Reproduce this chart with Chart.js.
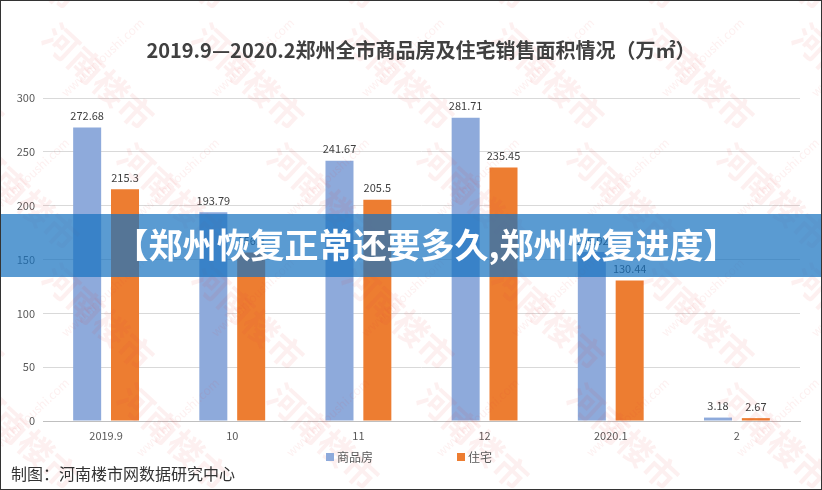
<!DOCTYPE html>
<html>
<head>
<meta charset="utf-8">
<script src="https://cdn.jsdelivr.net/npm/chart.js@4/dist/chart.umd.min.js"></script>
<style>
  html, body { margin: 0; padding: 0; background: #fff; }
  #wrap { width: 822px; height: 490px; position: relative; }
</style>
</head>
<body>
<div id="wrap"><canvas id="areaChart" width="822" height="490"></canvas></div>
<script>
// data
const months = ['2019.9', '10', '11', '12', '2020.1', '2'];
const commercialArea = [272.68, 193.79, 241.67, 281.71, 156.92, 3.18];   // 商品房
const residentialArea = [215.3, 156.4, 205.5, 235.45, 130.44, 2.67];     // 住宅
const yTicks = [0, 50, 100, 150, 200, 250, 300];

const titleText = '2019.9—2020.2郑州全市商品房及住宅销售面积情况（万㎡）';
const bannerText = '【郑州恢复正常还要多久,郑州恢复进度】';
const footerText = '制图：河南楼市网数据研究中心';
const FONT = '"Noto Sans CJK SC", "Noto Sans", sans-serif';

// watermark, labels, legend, banner
const decorPlugin = {
    id: 'decor',
    beforeDraw(chart) {
        const ctx = chart.ctx;
        ctx.save();
        ctx.fillStyle = '#fff';
        ctx.fillRect(0, 0, chart.width, chart.height);
        ctx.restore();
    },
    afterDatasetsDraw(chart) {
        const ctx = chart.ctx;
        // value labels above bars
        ctx.save();
        ctx.font = '11px ' + FONT;
        ctx.fillStyle = '#404040';
        ctx.textAlign = 'center';
        ctx.textBaseline = 'bottom';
        chart.data.datasets.forEach((ds, i) => {
            chart.getDatasetMeta(i).data.forEach((bar, j) => {
                ctx.fillText(String(ds.data[j]), bar.x, bar.y - 6);
            });
        });
        ctx.restore();

        // faint watermark
        ctx.save();
        ctx.globalAlpha = 0.08;
        ctx.fillStyle = '#e04040';
        for (let row = -1; row < 5; row++) {
            for (let col = -1; col < 7; col++) {
                const x = col * 150 + (row % 2) * 75 + 40;
                const y = row * 120 + 40;
                ctx.save();
                ctx.translate(x, y);
                ctx.rotate(0.75);
                ctx.font = 'bold 34px ' + FONT;
                ctx.fillText('河南楼市', 0, 0);
                ctx.font = '12px ' + FONT;
                ctx.rotate(-1.5);
                ctx.fillText('www.hnloushi.com', -20, 60);
                ctx.restore();
            }
        }
        ctx.restore();
    },
    afterDraw(chart) {
        const ctx = chart.ctx;
        ctx.save();

        // title
        ctx.font = 'bold 20px ' + FONT;
        ctx.fillStyle = '#404040';
        ctx.textAlign = 'center';
        ctx.textBaseline = 'middle';
        ctx.fillText(titleText, 421, 50);

        // legend
        ctx.font = '12px ' + FONT;
        ctx.textAlign = 'left';
        const legendX = [326, 457];
        chart.data.datasets.forEach((ds, i) => {
            ctx.fillStyle = ds.backgroundColor;
            ctx.fillRect(legendX[i], 453, 8, 8);
            ctx.fillStyle = '#595959';
            ctx.fillText(ds.label, legendX[i] + 11, 457);
        });

        // footer
        ctx.font = '16px ' + FONT;
        ctx.fillStyle = '#333333';
        ctx.fillText(footerText, 11, 474);

        // banner overlay
        ctx.fillStyle = 'rgba(22, 114, 191, 0.71)';
        ctx.fillRect(0, 214, chart.width, 63);
        ctx.font = 'bold 34px ' + FONT;
        ctx.fillStyle = '#ffffff';
        ctx.textAlign = 'center';
        ctx.fillText(bannerText, 426, 245);

        // frame
        ctx.strokeStyle = '#333333';
        ctx.lineWidth = 1;
        ctx.strokeRect(0.5, 0.5, chart.width - 1, chart.height - 1);
        ctx.restore();
    }
};

const chartCtx = document.getElementById('areaChart').getContext('2d');
const areaChart = new Chart(chartCtx, {
    type: 'bar',
    data: {
        labels: months,
        datasets: [{
            label: '商品房',
            data: commercialArea,
            backgroundColor: '#8eaadb',
            categoryPercentage: 0.6,
            barPercentage: 0.74
        }, {
            label: '住宅',
            data: residentialArea,
            backgroundColor: '#ed7d31',
            categoryPercentage: 0.6,
            barPercentage: 0.74
        }]
    },
    options: {
        responsive: false,
        animation: false,
        layout: {
            padding: { top: 98, right: 22, bottom: 0, left: 8 }
        },
        plugins: {
            legend: { display: false },
            title: { display: false },
            tooltip: { enabled: false }
        },
        scales: {
            x: {
                grid: { display: false, drawTicks: false },
                border: { color: '#bfbfbf' },
                ticks: { color: '#595959', font: { size: 11, family: FONT }, padding: 8 },
                afterFit(scale) { scale.height = 69; }
            },
            y: {
                min: 0,
                max: 300,
                afterBuildTicks(scale) { scale.ticks = yTicks.map(v => ({ value: v })); },
                grid: { color: '#d9d9d9', drawTicks: false },
                border: { display: false },
                ticks: { color: '#595959', font: { size: 11, family: FONT }, padding: 8 },
                afterFit(scale) { scale.width = 35; }
            }
        }
    },
    plugins: [decorPlugin]
});
</script>
</body>
</html>
